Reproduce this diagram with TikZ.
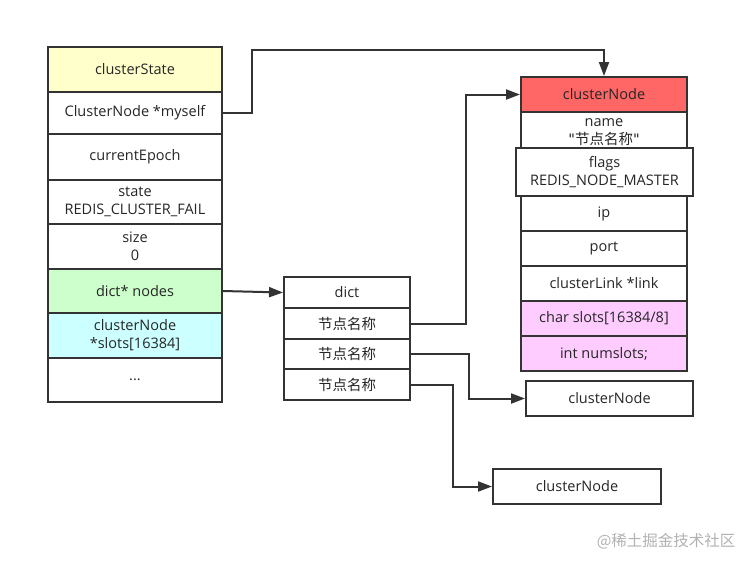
\documentclass[tikz,border=0pt]{standalone}
\usepackage{fontspec}
\setmainfont{Open Sans}
\newfontfamily\cjk{Noto Sans CJK SC}
\newfontfamily\qf[Ligatures=NoCommon]{DejaVu Sans}
\usetikzlibrary{arrows.meta,calc}
\definecolor{lc}{HTML}{333333}
\definecolor{cyellow}{HTML}{FFFFCC}
\definecolor{cgreen}{HTML}{CCFFCC}
\definecolor{ccyan}{HTML}{CCFFFF}
\definecolor{cred}{HTML}{FF6666}
\definecolor{cpink}{HTML}{FFCCFF}
\begin{document}
\begin{tikzpicture}[x=1pt,y=-1pt,
  cell/.style={draw=lc,line width=2pt,fill=white,rectangle,inner sep=0pt,align=center,
    font=\fontsize{14.5}{18}\selectfont,text=black!85},
  conn/.style={draw=lc,line width=2pt,-{Triangle[length=14pt,width=10pt]}}]
\useasboundingbox (0,0) rectangle (755,566);
\fill[white] (0,0) rectangle (755,566);
% left column
\begin{scope}[every node/.append style={minimum width=174pt}]
\node[cell,fill=cyellow,minimum height=45pt] (cs) at (135,69.5) {clusterState};
\node[cell,minimum height=42pt] (myself) at (135,113) {ClusterNode *myself};
\node[cell,minimum height=46pt] (epoch) at (135,157) {currentEpoch};
\node[cell,minimum height=44pt] (state) at (135,202) {state\\REDIS\_CLUSTER\_FAIL};
\node[cell,minimum height=45pt] (size) at (135,246.5) {size\\0};
\node[cell,fill=cgreen,minimum height=44pt] (nodes) at (135,291) {dict* nodes};
\node[cell,fill=ccyan,minimum height=45pt] (slots) at (135,335.5) {clusterNode\\*slots[16384]};
\node[cell,minimum height=44pt] (dots) at (135,380) {...};
\end{scope}
% dict
\begin{scope}[every node/.append style={minimum width=126pt}]
\node[cell,minimum height=31pt] (dict) at (347,292.5) {dict};
\node[cell,minimum height=31pt] (d1) at (347,323.5) {\cjk 节点名称};
\node[cell,minimum height=30pt] (d2) at (347,354) {\cjk 节点名称};
\node[cell,minimum height=31pt] (d3) at (347,384.5) {\cjk 节点名称};
\end{scope}
% clusterNode struct
\begin{scope}[every node/.append style={minimum width=166pt}]
\node[cell,fill=cred,minimum height=35pt] (cnhead) at (604,94.5) {clusterNode};
\node[cell,minimum height=40pt] (name) at (604,132) {name\\{\qf\symbol{34}}{\cjk 节点名称}{\qf\symbol{34}}};
\node[cell,minimum width=177pt,minimum height=48pt] (flags) at (604.5,172) {flags\\REDIS\_NODE\_MASTER};
\node[cell,minimum height=35pt] (ip) at (604,213.5) {ip};
\node[cell,minimum height=35pt] (port) at (604,248.5) {port};
\node[cell,minimum height=35pt] (link) at (604,283.5) {clusterLink *link};
\node[cell,fill=cpink,minimum height=35pt] (cslots) at (604,318.5) {char slots[16384/8]};
\node[cell,fill=cpink,minimum height=35pt] (nslots) at (604,353.5) {int numslots;};
\end{scope}
\node[cell,minimum width=167pt,minimum height=35pt] (cn1) at (609.5,398.5) {clusterNode};
\node[cell,minimum width=168pt,minimum height=35pt] (cn2) at (577,486.5) {clusterNode};
% connectors
\coordinate (m1) at (252,50);
\coordinate (m2) at (604,50);
\draw[conn] (myself.east) -| (m1) -- (m2) -- (cnhead.north);
\draw[conn] (nodes.east) -- (dict.west);
\draw[conn] (d1.east) -- ++(55,0) |- (cnhead.west);
\draw[conn] (d2.east) -- ++(58,0) |- (cn1.west);
\draw[conn] (d3.east) -- ++(42,0) |- (cn2.west);
% watermark
\node[text=black!30,font=\cjk\fontsize{15.5}{17}\selectfont,anchor=east] (wm) at (739,541) {@稀土掘金技术社区};
\end{tikzpicture}
\end{document}
